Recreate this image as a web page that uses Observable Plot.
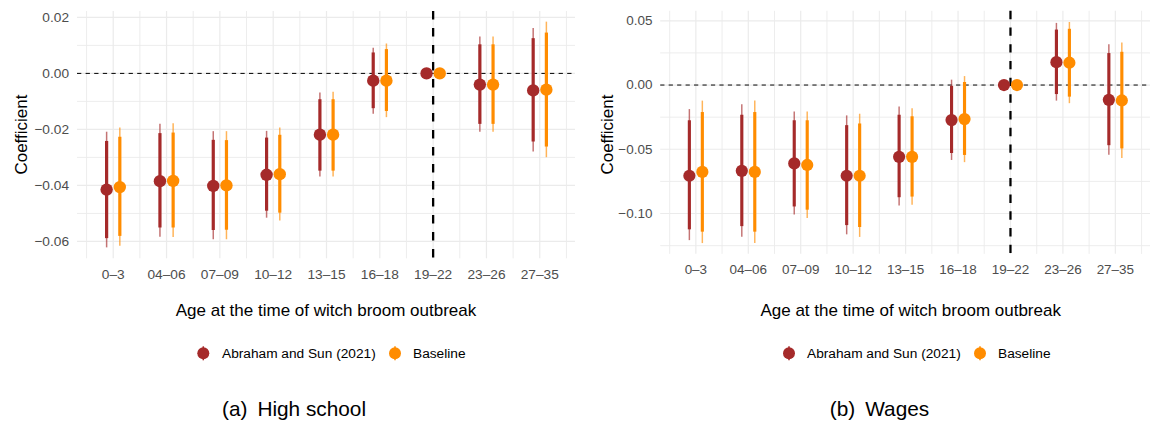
<!DOCTYPE html>
<html>
<head>
<meta charset="utf-8">
<script src="https://cdn.jsdelivr.net/npm/d3@7"></script>
<script src="https://cdn.jsdelivr.net/npm/@observablehq/plot@0.6"></script>
<style>
  html, body { margin: 0; padding: 0; background: #ffffff; }
  #root { position: relative; width: 1150px; height: 421px; overflow: hidden; font-family: "Liberation Sans", Arial, Helvetica, sans-serif; }
  .panel { position: absolute; top: 0; height: 330px; overflow: hidden; }
  #overlay { position: absolute; left: 0; top: 0; pointer-events: none; }
</style>
</head>
<body>
<div id="root">
  <div class="panel" id="left" style="left:0px;width:575px;"></div>
  <div class="panel" id="right" style="left:575px;width:575px;"></div>
</div>
<script>
// ---------- data ----------
const categories = ["0–3", "04–06", "07–09", "10–12", "13–15", "16–18", "19–22", "23–26", "27–35"];
const referenceCategory = "19–22";
const seriesNames = ["Abraham and Sun (2021)", "Baseline"];
const seriesColors = ["#A52A2A", "#FF8C00"];

// (a) High school — Abraham and Sun (2021)
const hsSunEst  = [-0.0415, -0.0385, -0.0402, -0.0362, -0.0219, -0.0026, 0, -0.0040, -0.0061];
const hsSunLo90 = [-0.0590, -0.0552, -0.0561, -0.0492, -0.0349, -0.0126, null, -0.0182, -0.0245];
const hsSunHi90 = [-0.0243, -0.0215, -0.0239, -0.0231, -0.0094, 0.0073, null, 0.0102, 0.0124];
const hsSunLo95 = [-0.0623, -0.0585, -0.0594, -0.0517, -0.0370, -0.0146, null, -0.0210, -0.0281];
const hsSunHi95 = [-0.0210, -0.0182, -0.0208, -0.0207, -0.0070, 0.0090, null, 0.0130, 0.0160];
// (a) High school — Baseline
const hsBaseEst  = [-0.0406, -0.0384, -0.0400, -0.0360, -0.0219, -0.0026, 0, -0.0040, -0.0058];
const hsBaseLo90 = [-0.0582, -0.0552, -0.0560, -0.0499, -0.0349, -0.0136, null, -0.0182, -0.0263];
const hsBaseHi90 = [-0.0228, -0.0213, -0.0240, -0.0221, -0.0094, 0.0085, null, 0.0102, 0.0144];
const hsBaseLo95 = [-0.0617, -0.0586, -0.0594, -0.0527, -0.0370, -0.0158, null, -0.0210, -0.0301];
const hsBaseHi95 = [-0.0195, -0.0180, -0.0208, -0.0195, -0.0067, 0.0105, null, 0.0130, 0.0183];

// (b) Wages — Abraham and Sun (2021)
const wgSunEst  = [-0.0706, -0.0668, -0.0610, -0.0706, -0.0559, -0.0273, 0, 0.0178, -0.0115];
const wgSunLo90 = [-0.1127, -0.1102, -0.0949, -0.1094, -0.0877, -0.0533, null, -0.0074, -0.0472];
const wgSunHi90 = [-0.0278, -0.0235, -0.0278, -0.0316, -0.0235, -0.0010, null, 0.0428, 0.0245];
const wgSunLo95 = [-0.1211, -0.1184, -0.1012, -0.1166, -0.0941, -0.0587, null, -0.0125, -0.0546];
const wgSunHi95 = [-0.0191, -0.0153, -0.0209, -0.0240, -0.0171, 0.0038, null, 0.0480, 0.0314];
// (b) Wages — Baseline
const wgBaseEst  = [-0.0676, -0.0676, -0.0622, -0.0706, -0.0559, -0.0265, 0, 0.0174, -0.0120];
const wgBaseLo90 = [-0.1145, -0.1145, -0.0974, -0.1109, -0.0872, -0.0548, null, -0.0094, -0.0497];
const wgBaseHi90 = [-0.0214, -0.0214, -0.0278, -0.0303, -0.0247, 0.0020, null, 0.0434, 0.0255];
const wgBaseLo95 = [-0.1234, -0.1234, -0.1038, -0.1186, -0.0936, -0.0604, null, -0.0145, -0.0571];
const wgBaseHi95 = [-0.0125, -0.0125, -0.0209, -0.0227, -0.0184, 0.0066, null, 0.0487, 0.0327];

// tick values
const hsYMajor = [-0.06, -0.04, -0.02, 0, 0.02];
const hsYMinor = [-0.05, -0.03, -0.01, 0.01];
const wgYMajor = [-0.10, -0.05, 0, 0.05];
const wgYMinor = [-0.125, -0.075, -0.025, 0.025];

const xTitle = "Age at the time of witch broom outbreak";
const yTitle = "Coefficient";
const captions = [["(a)", "High school"], ["(b)", "Wages"]];

// ---------- plotting ----------
const FONT = '"Liberation Sans", Arial, Helvetica, sans-serif';
const GRID = "#EBEBEB";

function rowsFor(est, lo90, hi90, lo95, hi95) {
  return categories.map((c, i) => ({
    x: i + 1, cat: c, est: est[i], lo90: lo90[i], hi90: hi90[i], lo95: lo95[i], hi95: hi95[i]
  }));
}

function makePanel({series, yDomain, yMajor, yMinor, width, marginLeft}) {
  const xIdx = d3.range(1, categories.length + 1);
  const xMinor = xIdx.map(v => v - 0.5).concat([categories.length + 0.5]);
  const refX = categories.indexOf(referenceCategory) + 1;
  const marks = [
    Plot.gridY(yMinor, {stroke: GRID, strokeOpacity: 1, strokeWidth: 0.9}),
    Plot.gridY(yMajor, {stroke: GRID, strokeOpacity: 1, strokeWidth: 1.2}),
    Plot.gridX(xMinor, {stroke: GRID, strokeOpacity: 1, strokeWidth: 0.9}),
    Plot.gridX(xIdx, {stroke: GRID, strokeOpacity: 1, strokeWidth: 1.2}),
    Plot.axisY(yMajor, {tickSize: 0, tickPadding: 8.5, tickFormat: d3.format(".2f"), label: null}),
    Plot.axisX(xIdx, {tickSize: 0, tickPadding: 10, tickFormat: i => categories[i - 1], label: null}),
    Plot.ruleY([0], {stroke: "#000", strokeWidth: 1, strokeDasharray: "4.3,4.3"}),
    Plot.ruleX([refX], {stroke: "#000", strokeWidth: 2.3, strokeDasharray: "8.5,8.5"})
  ];
  series.forEach((rows, k) => {
    const dx = k === 0 ? -6.6 : 6.6;
    const color = seriesColors[k];
    marks.push(Plot.ruleX(rows, {x: "x", y1: "lo95", y2: "hi95", stroke: color, strokeWidth: 1.5, strokeOpacity: 0.65, dx}));
    marks.push(Plot.ruleX(rows, {x: "x", y1: "lo90", y2: "hi90", stroke: color, strokeWidth: 3.2, dx}));
    marks.push(Plot.dot(rows, {x: "x", y: "est", r: 6.2, fill: color, stroke: "none", dx}));
  });
  return Plot.plot({
    width, height: 330,
    marginLeft, marginRight: 0, marginTop: 11, marginBottom: 330 - 258.3,
    x: {type: "linear", domain: [0.33, categories.length + 0.67]},
    y: {type: "linear", domain: yDomain},
    style: {fontFamily: FONT, fontSize: "13.7px", color: "#4D4D4D", background: "transparent", overflow: "visible"},
    marks
  });
}

const leftPlot = makePanel({
  series: [rowsFor(hsSunEst, hsSunLo90, hsSunHi90, hsSunLo95, hsSunHi95),
           rowsFor(hsBaseEst, hsBaseLo90, hsBaseHi90, hsBaseLo95, hsBaseHi95)],
  yDomain: [-0.0662, 0.0221], yMajor: hsYMajor, yMinor: hsYMinor,
  width: 575, marginLeft: 77
});
document.getElementById("left").appendChild(leftPlot);

const rightPlot = makePanel({
  series: [rowsFor(wgSunEst, wgSunLo90, wgSunHi90, wgSunLo95, wgSunHi95),
           rowsFor(wgBaseEst, wgBaseLo90, wgBaseHi90, wgBaseLo95, wgBaseHi95)],
  yDomain: [-0.1318, 0.0574], yMajor: wgYMajor, yMinor: wgYMinor,
  width: 585, marginLeft: 86.7
});
document.getElementById("right").appendChild(rightPlot);

// ---------- overlay text: axis titles, legends, captions ----------
const svg = d3.select("#root").append("svg")
  .attr("id", "overlay").attr("width", 1150).attr("height", 421)
  .style("font-family", FONT);

const panels = [
  {yTitleX: 26.5, yTitleY: 134.6, xTitleX: 326, legendKeys: [203.3, 395], legendTexts: [222, 413], captionX: 294},
  {yTitleX: 612.5, yTitleY: 134.6, xTitleX: 910.7, legendKeys: [789, 980], legendTexts: [807, 998], captionX: 879.5}
];

panels.forEach((p, pi) => {
  svg.append("text")
    .attr("transform", `translate(${p.yTitleX},${p.yTitleY}) rotate(-90)`)
    .attr("text-anchor", "middle").attr("font-size", 17).attr("fill", "#000")
    .text(yTitle);
  svg.append("text")
    .attr("x", p.xTitleX).attr("y", 316)
    .attr("text-anchor", "middle").attr("font-size", 17).attr("fill", "#000")
    .text(xTitle);
  seriesNames.forEach((name, k) => {
    const g = svg.append("g").attr("transform", `translate(${p.legendKeys[k]},353.3)`);
    g.append("line").attr("x1", 0).attr("x2", 0).attr("y1", -7).attr("y2", 7)
      .attr("stroke", seriesColors[k]).attr("stroke-width", 1.5);
    g.append("circle").attr("r", 6).attr("fill", seriesColors[k]);
    svg.append("text")
      .attr("x", p.legendTexts[k]).attr("y", 358.2)
      .attr("font-size", 13.7).attr("fill", "#000")
      .text(name);
  });
  const cap = svg.append("text")
    .attr("x", p.captionX).attr("y", 415.5)
    .attr("text-anchor", "middle").attr("font-size", 20.8).attr("fill", "#000");
  cap.append("tspan").text(captions[pi][0]);
  cap.append("tspan").attr("dx", 10).text(captions[pi][1]);
});
</script>
</body>
</html>
